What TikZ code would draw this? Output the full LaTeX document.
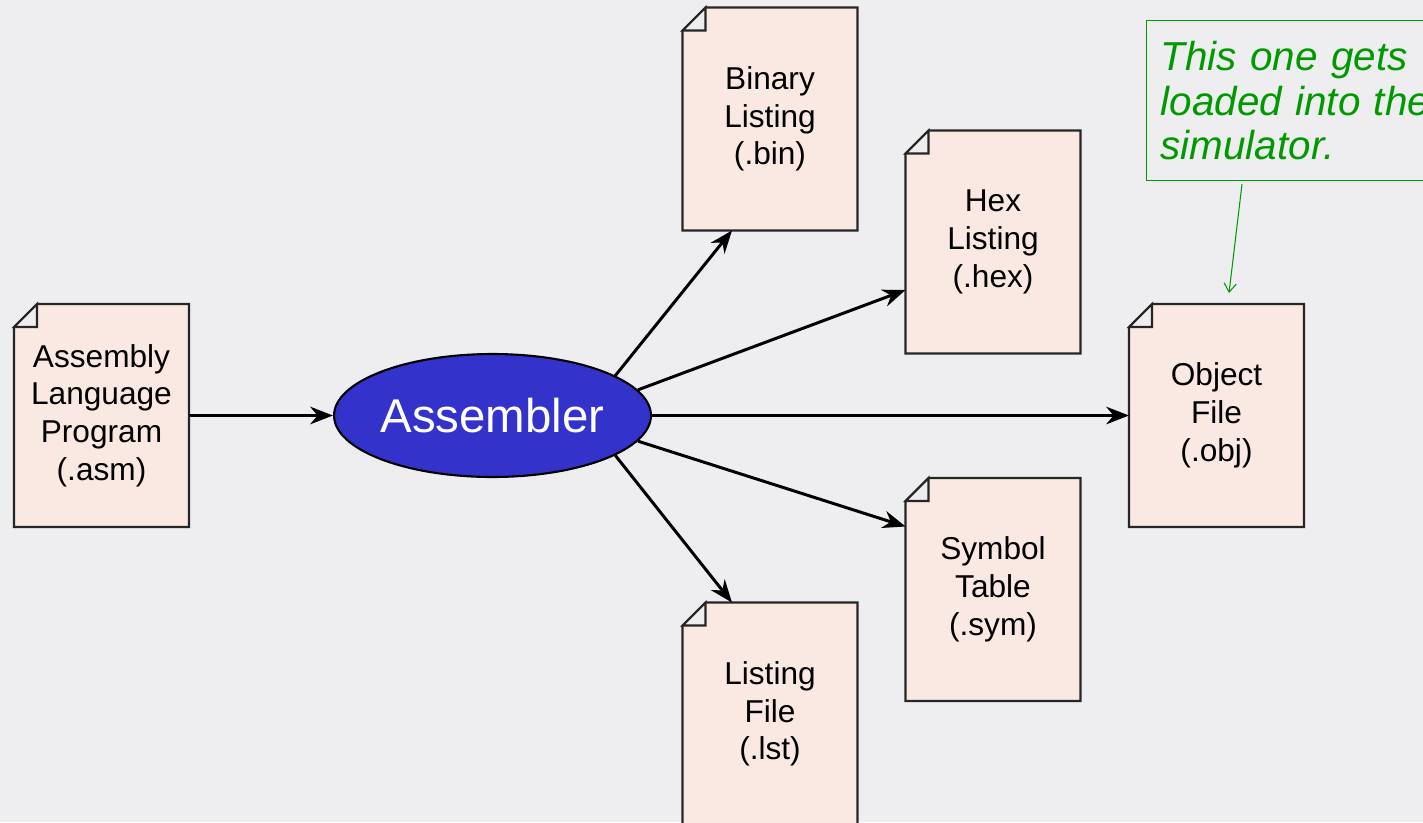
\documentclass[tikz,border=0pt]{standalone}
\usepackage{fontspec}
\setmainfont{Liberation Sans}
\usetikzlibrary{shapes.geometric, arrows.meta, positioning, calc}
\definecolor{cPaper}{RGB}{249,233,226}
\definecolor{cFold}{RGB}{238,238,238}
\definecolor{cAsm}{RGB}{51,51,204}
\definecolor{cNote}{RGB}{0,153,0}
\definecolor{cBack}{RGB}{238,238,240}
\tikzset{
  docnode/.style={rectangle, fill=cPaper, inner sep=0pt, outer sep=0pt,
                  minimum width=3.5cm, minimum height=4.46cm, align=center,
                  font=\fontsize{18}{21.5}\selectfont},
  docline/.style={draw=black!85, line width=1.2pt, line join=miter},
  foldline/.style={docline, fill=cFold},
  asmnode/.style={ellipse, draw=black, line width=1.2pt, fill=cAsm, text=white,
                  minimum width=6.22cm, minimum height=2.46cm, inner sep=0pt,
                  font=\fontsize{27}{30}\selectfont},
  notenode/.style={rectangle, draw=cNote, line width=0.7pt, text=cNote,
                   align=left, text width=5.6cm, inner xsep=0.28cm, inner ysep=0.34cm,
                   minimum height=3.2cm, font=\fontsize{23}{25.5}\selectfont\itshape},
  arrow/.style={-{Stealth[length=13pt, width=10pt]}, line width=1.7pt, color=black},
  notearrow/.style={-{Straight Barb[length=5pt, width=7pt]}, line width=0.6pt, color=cNote}
}

\begin{document}
\begin{tikzpicture}[x=0.02cm, y=-0.02cm]

  % Page
  \useasboundingbox (0,0) rectangle (1423,822);
  \clip (0,0) rectangle (1423,822);
  \fill[cBack] (0,0) rectangle (1423,822);

  % Assembler
  \node[asmnode] (as) at (492.5,415.5) {Assembler};

  % Files
  \node[docnode] (asm) at (101.5,415.5) {Assembly\\Language\\Program\\(.asm)};
  \node[docnode] (bin) at (770,119)     {Binary\\Listing\\(.bin)};
  \node[docnode] (hex) at (993,242)     {Hex\\Listing\\(.hex)};
  \node[docnode] (obj) at (1216.5,415.5){Object\\File\\(.obj)};
  \node[docnode] (sym) at (993,589.5)   {Symbol\\Table\\(.sym)};
  \node[docnode] (lst) at (770,714)     {Listing\\File\\(.lst)};

  % Outlines and folded corners
  \foreach \n in {asm,bin,hex,obj,sym,lst}{
    \fill[cBack] (\n.north west) -- ++(23,0) -- ++(-23,23) -- cycle;
    \draw[docline] ($(\n.north west)+(23,0)$) -- (\n.north east) -- (\n.south east)
        -- (\n.south west) -- ($(\n.north west)+(0,23)$) -- cycle;
    \draw[foldline] ($(\n.north west)+(23,0)$) -- ++(0,23) -- ++(-23,0) -- cycle;
  }

  % Note
  \node[notenode, anchor=north west] (note) at (1146,20)
      {This one gets\\loaded into the\\simulator.};

  % Arrows
  \draw[arrow] (asm.east) -- (as.west);
  \draw[arrow] (as.18) -- ($(bin.south)+(-38,0)$);
  \draw[arrow] (as.10) -- ($(hex.west)+(0,48)$);
  \draw[arrow] (as.east) -- (obj.west);
  \draw[arrow] (as.-10) -- ($(sym.west)+(0,-63)$);
  \draw[arrow] (as.-18) -- ($(lst.north)+(-38,0)$);
  \draw[notearrow] ($(note.south west)+(96,3)$) -- ($(obj.north)+(12.5,-11)$);

\end{tikzpicture}
\end{document}
